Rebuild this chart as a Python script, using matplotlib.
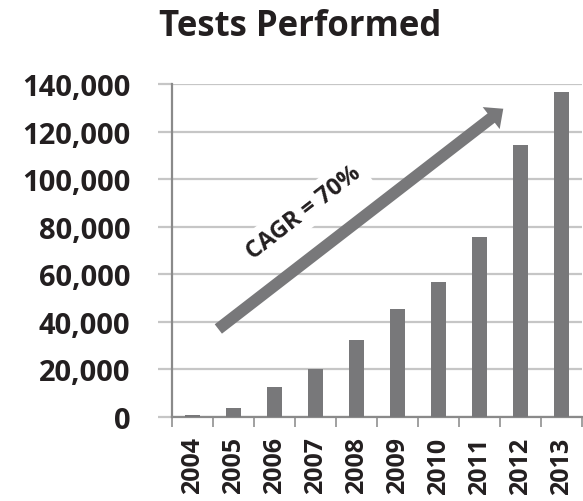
import matplotlib.pyplot as plt
import numpy as np

years = ["2004", "2005", "2006", "2007", "2008", "2009", "2010", "2011", "2012", "2013"]
tests = [700, 3900, 12600, 20300, 32200, 45500, 56600, 75600, 114400, 136800]
yticks = [0, 20000, 40000, 60000, 80000, 100000, 120000, 140000]

bar_col = "#78787a"
grid_col = "#c6c6c6"
txt_col = "#231f20"

plt.rcParams["font.family"] = ["Open Sans", "DejaVu Sans"]
plt.rcParams["font.weight"] = "bold"

fig = plt.figure(figsize=(5.83, 5.02), dpi=100)
ax = fig.add_axes([172 / 583, 1 - 418 / 502, 410 / 583, 333 / 502])

x = np.arange(len(years))
ax.bar(x, tests, width=0.37, color=bar_col, zorder=3)

ax.set_xlim(-0.5, len(years) - 0.5)
ax.set_ylim(0, 140000)
ax.set_yticks(yticks)
ax.set_yticklabels([f"{v:,}" for v in yticks], fontsize=21, fontweight="bold", color=txt_col)
ax.yaxis.grid(True, color=grid_col, linewidth=1.6, zorder=0)
ax.set_axisbelow(True)
ax.tick_params(axis="y", length=10, width=1.6, color=grid_col, pad=20)

ax.set_xticks(x)
ax.set_xticklabels(years, rotation=90, fontsize=18, fontweight="bold", color=txt_col)
ax.set_xticks(np.arange(-0.5, len(years)), minor=True)
ax.tick_params(axis="x", which="major", length=0, pad=14)
ax.tick_params(axis="x", which="minor", length=7, width=1.4, color="#a0a0a0")

for s in ["top", "right"]:
    ax.spines[s].set_visible(False)
for s in ["left", "bottom"]:
    ax.spines[s].set_color("#8a8a8a")
    ax.spines[s].set_linewidth(1.6)

# growth arrow
ax.annotate("", xy=(7.58, 129600), xytext=(0.63, 37000),
            arrowprops=dict(width=8.5, headwidth=20, headlength=11, shrink=0,
                            color=bar_col, linewidth=0), zorder=4)
ax.text(2.7, 86100, "CAGR = 70%", rotation=37.8, rotation_mode="anchor",
        ha="center", va="center", fontsize=17, fontweight="bold", color=txt_col,
        bbox=dict(facecolor="white", edgecolor="none", pad=4), zorder=2)

fig.text(300 / 583, 1 - 27 / 502, "Tests Performed", ha="center", va="center",
         fontsize=25, fontweight="bold", color=txt_col)

fig.savefig("out.png", dpi=100)
